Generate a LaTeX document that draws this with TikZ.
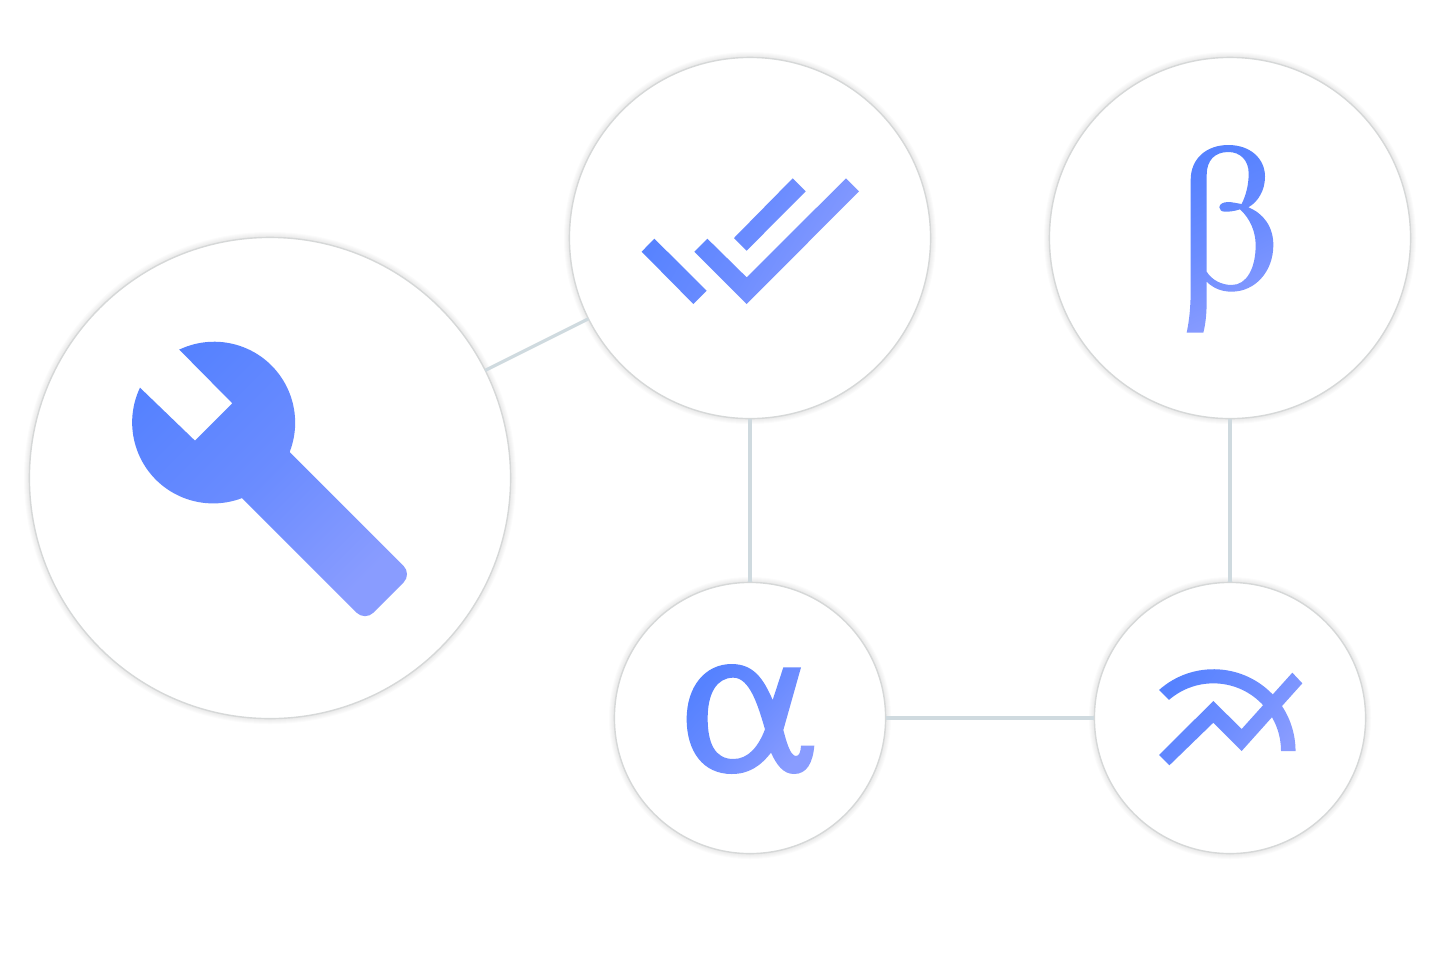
\documentclass[tikz,border=0pt]{standalone}
\definecolor{iconA}{HTML}{5682FF}
\definecolor{iconM}{HTML}{6B8CFF}
\definecolor{iconB}{HTML}{899CFF}
\definecolor{edgecol}{HTML}{CFDADF}
\definecolor{rimcol}{HTML}{D6D8D8}
\tikzset{
  bubble/.style={circle,fill=white,draw=rimcol,line width=0.7pt,inner sep=0pt,outer sep=0pt},
  link/.style={draw=edgecol,line width=1.6pt},
  icon/.style={top color=iconA,bottom color=iconB,middle color=iconM,shading angle=#1,draw=none},
}
\newcommand{\softshadow}[3]{%
  \foreach \dr in {6,5,...,0}{\fill[black,opacity=0.016] (#1,#2) circle[radius={#3+\dr}];}%
}
\begin{document}
\begin{tikzpicture}[x=0.5pt,y=-0.5pt]
\useasboundingbox (0,0) rectangle (1440,960);
\softshadow{270}{478}{240}
\softshadow{750}{238}{180}
\softshadow{1230}{238}{180}
\softshadow{750}{718}{135}
\softshadow{1230}{718}{135}
\node[bubble,minimum size=240.6pt] (wrench) at (270,478) {};
\node[bubble,minimum size=180.6pt] (check) at (750,238) {};
\node[bubble,minimum size=180.6pt] (beta) at (1230,238) {};
\node[bubble,minimum size=135.6pt] (alpha) at (750,718) {};
\node[bubble,minimum size=135.6pt] (chart) at (1230,718) {};
\path[link] (wrench) -- (check);
\path[link] (check) -- (alpha);
\path[link] (beta) -- (chart);
\path[link] (alpha) -- (chart);
% wrench
\begin{scope}[shift={(100,320)},scale=1/3]
\path[icon=45] (237,88) -- (397,250) -- (285,362) -- (120,203)
  arc[start angle=205.4,end angle=69.1,radius=243]
  -- (770.3,878.3) .. controls (783.9,891.9) and (806.1,891.9) .. (819.7,878.3)
  -- (910.8,787.2) .. controls (924.4,773.6) and (924.4,751.4) .. (910.8,737.8)
  -- (569,396) arc[start angle=21.2,end angle=-115.3,radius=243] -- cycle;
\end{scope}
% check marks
\begin{scope}[shift={(620,160)},scale=1/3]
\path[icon=60] (103,236) -- (260,392) -- (220,432) -- (65,275) -- cycle
  (262,236) -- (380,352) -- (678,55) -- (717,94) -- (380,432) -- (223,275) -- cycle
  (518,55) -- (557,94) -- (380,272) -- (342,234) -- cycle;
\end{scope}
% beta
\begin{scope}[shift={(1160,130)},scale=1/3]
\path[icon=25,even odd rule]
  (80,608) .. controls (88,570) and (92,530) .. (92,480) -- (92,150)
  .. controls (92,85) and (140,45) .. (205,45)
  .. controls (270,45) and (315,85) .. (315,140)
  .. controls (315,180) and (295,215) .. (265,232)
  .. controls (310,250) and (340,290) .. (340,345)
  .. controls (340,425) and (285,485) .. (215,485)
  .. controls (185,485) and (160,475) .. (140,455) -- (140,510)
  .. controls (140,550) and (137,580) .. (130,608) -- cycle
  (140,425) .. controls (155,450) and (185,465) .. (215,465)
  .. controls (260,465) and (287,415) .. (287,345)
  .. controls (287,305) and (270,265) .. (240,238)
  .. controls (225,243) and (205,246) .. (195,245)
  .. controls (185,245) and (178,240) .. (178,232)
  .. controls (178,222) and (190,216) .. (205,216)
  .. controls (215,216) and (232,220) .. (245,222)
  .. controls (258,195) and (266,165) .. (266,130)
  .. controls (266,90) and (240,66) .. (205,66)
  .. controls (165,66) and (140,90) .. (140,135) -- cycle;
\end{scope}
% alpha
\begin{scope}[shift={(670,650)},scale=1/3]
\path[icon=49,even odd rule]
  (340,52) -- (393,52) -- (340,240)
  .. controls (348,270) and (360,318) .. (378,318)
  .. controls (388,318) and (392,305) .. (393,287) -- (433,287)
  .. controls (428,340) and (410,372) .. (372,372)
  .. controls (340,372) and (320,345) .. (303,308)
  .. controls (270,350) and (235,372) .. (185,372)
  .. controls (100,372) and (50,305) .. (50,207)
  .. controls (50,110) and (105,42) .. (185,42)
  .. controls (250,42) and (280,85) .. (308,150) -- cycle
  (190,83) .. controls (240,83) and (265,170) .. (285,238)
  .. controls (265,290) and (235,327) .. (190,327)
  .. controls (135,327) and (113,280) .. (113,205)
  .. controls (113,130) and (140,83) .. (190,83) -- cycle;
\end{scope}
% chart
\begin{scope}[shift={(1145,655)},scale=1/3]
\path[icon=56]
  (42,105) arc[start angle=228.3,end angle=360,radius=246] -- (408,288)
  arc[start angle=360,end angle=229,radius=203] -- cycle
  (42,300) -- (205,138) -- (290,222) -- (442,53) -- (472,85) -- (290,288) -- (205,203) -- (73,331) -- cycle;
\end{scope}
\end{tikzpicture}
\end{document}
